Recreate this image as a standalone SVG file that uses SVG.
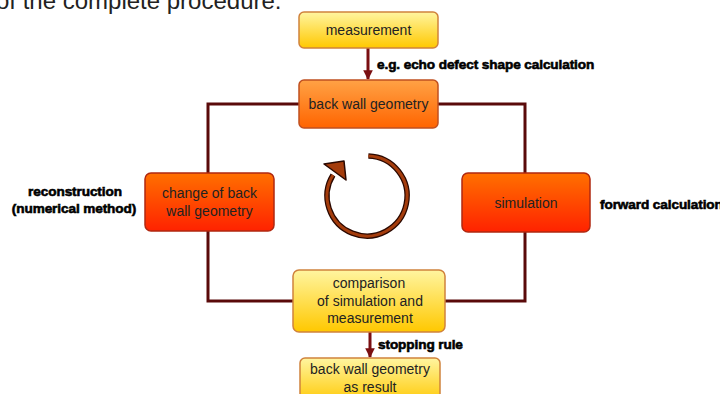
<svg xmlns="http://www.w3.org/2000/svg" width="720" height="394" viewBox="0 0 720 394">
<defs>
<linearGradient id="gYellow" x1="0" y1="0" x2="0" y2="1">
<stop offset="0" stop-color="#fff5a0"/>
<stop offset="1" stop-color="#ffc800"/>
</linearGradient>
<linearGradient id="gOrange" x1="0" y1="0" x2="0" y2="1">
<stop offset="0" stop-color="#ffa245"/>
<stop offset="1" stop-color="#ff6400"/>
</linearGradient>
<linearGradient id="gRed" x1="0" y1="0" x2="0" y2="1">
<stop offset="0" stop-color="#ff7000"/>
<stop offset="1" stop-color="#ff2200"/>
</linearGradient>
<marker id="arr" viewBox="0 0 10 10" refX="9" refY="5" markerWidth="3.2" markerHeight="3.2" orient="auto" markerUnits="strokeWidth">
<path d="M0,0 L10,5 L0,10 z" fill="#7a0f12"/>
</marker>
</defs>
<style>
.box{stroke-width:1.5;}
.y{fill:url(#gYellow);stroke:#d0823c;}
.o{fill:url(#gOrange);stroke:#c05020;}
.r{fill:url(#gRed);stroke:#b02810;}
.t{font-family:"Liberation Sans",Arial,sans-serif;font-size:14px;fill:#222;text-anchor:middle;}
.lab{font-family:"Liberation Sans",Arial,sans-serif;font-size:13.6px;font-weight:bold;fill:#000;stroke:#000;stroke-width:0.6px;letter-spacing:-0.1px;}
.loop{fill:none;stroke:#5a0a0a;stroke-width:3;}
.arrow{fill:none;stroke:#7a0f12;stroke-width:3;marker-end:url(#arr);}
</style>
<rect width="720" height="394" fill="#ffffff"/>
<text x="-4" y="9" font-family="'Liberation Sans',Arial,sans-serif" font-size="24" fill="#222">of the complete procedure:</text>

<g id="connectors">
<path class="loop" d="M300,104 H208 V301 H293"/>
<path class="loop" d="M438,104 H525 V301 H445"/>
<path class="arrow" d="M368,48 V79"/>
<path class="arrow" d="M370,332 V357"/>
</g>

<g id="node-measurement">
<rect class="box y" x="299" y="12" width="139" height="36" rx="5"/>
<text class="t" x="368.5" y="35">measurement</text>
</g>
<g id="node-backwall">
<rect class="box o" x="299" y="80" width="139" height="48" rx="5"/>
<text class="t" x="368.5" y="109">back wall geometry</text>
</g>
<g id="node-change">
<rect class="box r" x="145" y="173" width="129" height="58" rx="6"/>
<text class="t" x="209.5" y="198">change of back</text>
<text class="t" x="209.5" y="216">wall geometry</text>
</g>
<g id="node-simulation">
<rect class="box r" x="462" y="173" width="128" height="59" rx="6"/>
<text class="t" x="526" y="208">simulation</text>
</g>
<g id="node-comparison">
<rect class="box y" x="293" y="270" width="152" height="62" rx="6"/>
<text class="t" x="369" y="288">comparison</text>
<text class="t" x="370" y="306">of simulation and</text>
<text class="t" x="370" y="323">measurement</text>
</g>
<g id="node-result">
<rect class="box y" x="300" y="358" width="140" height="46" rx="5"/>
<text class="t" x="370" y="374">back wall geometry</text>
<text class="t" x="370" y="392">as result</text>
</g>

<g id="labels">
<text class="lab" x="377" y="69">e.g. echo defect shape calculation</text>
<text class="lab" x="75" y="196" text-anchor="middle">reconstruction</text>
<text class="lab" x="74" y="213" text-anchor="middle">(numerical method)</text>
<text class="lab" x="600" y="209">forward calculation</text>
<text class="lab" x="378" y="349">stopping rule</text>
</g>

<g id="cycle-arrow">
<path d="M368.4,156 A40,40 0 1 1 333,175" fill="none" stroke="#2a0800" stroke-width="5.5"/>
<path d="M368.4,156 A40,40 0 1 1 333,175" fill="none" stroke="#a43c0c" stroke-width="3"/>
<polygon points="344,161 324,164 346,180" fill="#a43c0c" stroke="#2a0800" stroke-width="1.5" stroke-linejoin="round"/>
</g>
</svg>
